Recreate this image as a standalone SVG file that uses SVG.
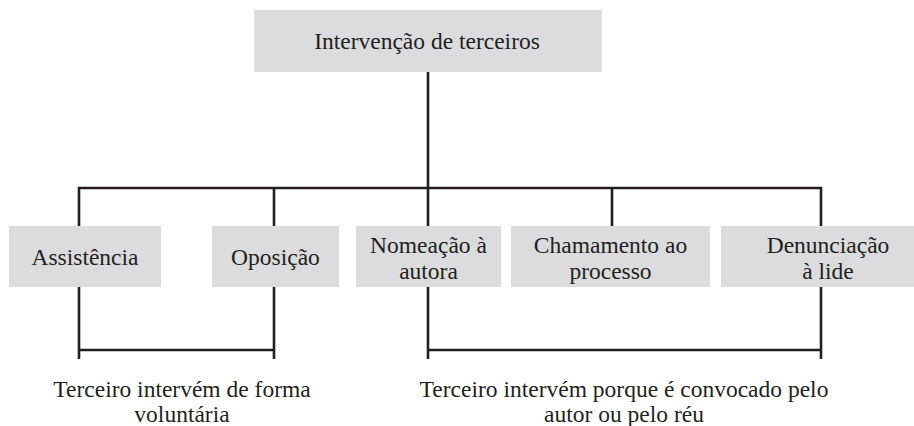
<svg xmlns="http://www.w3.org/2000/svg" width="914" height="426" viewBox="0 0 914 426">
<style>
.box{fill:#dcdcde;}
.t{font-family:"Liberation Serif","Times New Roman",serif;font-size:23.5px;fill:#231f20;text-anchor:middle;}
.ln{stroke:#231f20;stroke-width:2.6;fill:none;}
</style>
<rect width="914" height="426" fill="#ffffff"/>
<g id="connectors">
<path class="ln" d="M428 72V226"/>
<path class="ln" d="M79 226V188H821V226"/>
<path class="ln" d="M274 188V226"/>
<path class="ln" d="M612 188V226"/>
<path class="ln" d="M79 287V359M274 287V359M79 350H274"/>
<path class="ln" d="M428 287V359M821 287V359M428 350H821"/>
</g>
<g id="n-intervencao"><rect class="box" x="254" y="10" width="348" height="62"/><text class="t" x="427" y="49">Intervenção de terceiros</text></g>
<g id="n-assistencia"><rect class="box" x="9" y="226" width="152" height="61"/><text class="t" x="85" y="265">Assistência</text></g>
<g id="n-oposicao"><rect class="box" x="212" y="226" width="127" height="61"/><text class="t" x="275.5" y="265">Oposição</text></g>
<g id="n-nomeacao"><rect class="box" x="356" y="226" width="145" height="61"/><text class="t" x="428.5" y="253">Nomeação à</text><text class="t" x="428.5" y="279">autora</text></g>
<g id="n-chamamento"><rect class="box" x="511" y="226" width="199" height="61"/><text class="t" x="610.5" y="253">Chamamento ao</text><text class="t" x="610.5" y="279">processo</text></g>
<g id="n-denunciacao"><rect class="box" x="721" y="226" width="193" height="61"/><text class="t" x="828" y="253">Denunciação</text><text class="t" x="828" y="279">à lide</text></g>
<g id="n-voluntaria"><text class="t" x="182" y="397">Terceiro intervém de forma</text><text class="t" x="182" y="422">voluntária</text></g>
<g id="n-convocado"><text class="t" x="624" y="397">Terceiro intervém porque é convocado pelo</text><text class="t" x="624" y="422">autor ou pelo réu</text></g>
</svg>
